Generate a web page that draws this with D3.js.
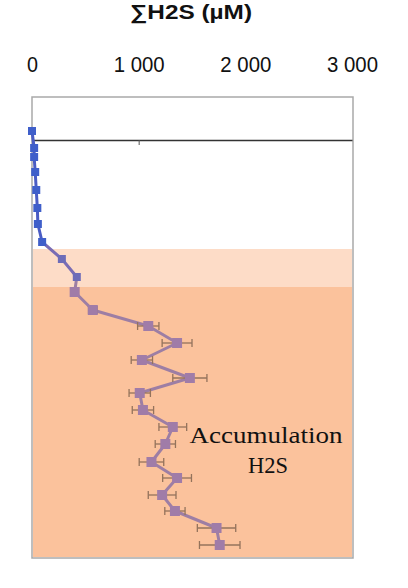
<html>
<head>
    <style>
        body {
            margin: 0;
            background: white;
            font-family: "Liberation Sans", Arial, sans-serif;
        }
    </style>
    <script src="https://cdn.jsdelivr.net/npm/d3@7/dist/d3.min.js"></script>
</head>
<body>
    <div class="mainView"></div>
</body>
<script>
    // depth below the sediment surface (mm), negative = water above
    const depths = [-4.5, 4, 8.5, 16, 25, 34, 42, 51, 59.5, 68.5, 76, 85, 93, 101.5,
                    110, 119, 126.5, 135, 143.5, 152, 161, 169, 177.5, 185.5, 194, 202.5];
    // sum H2S (uM) and its error
    const h2s = [0, 20, 20, 30, 40, 50, 55, 95, 280, 420, 400, 570, 1090, 1360,
                 1030, 1480, 1010, 1040, 1320, 1250, 1120, 1360, 1220, 1340, 1730, 1760];
    const h2sErr = [0, 0, 0, 0, 0, 0, 0, 0, 10, 20, 20, 40, 100, 140,
                    100, 160, 100, 100, 130, 95, 115, 135, 130, 95, 180, 190];
    const xTicks = [0, 1000, 2000, 3000];
    const transitionZone = [54.5, 73.5];
    const accumulationZone = [73.5, 208.5];
    const depthExtent = [-21.5, 209];
    const accLabel = ["Accumulation", "H2S"];

    function getChartConfig() {
        let width = 408;
        let height = 588;
        let svg = d3.select(".mainView")
            .append("svg")
            .attr("width", width)
            .attr("height", height);
        return { width, height, svg };
    }

    function getChartScales() {
        let xScale = d3.scaleLinear()
            .domain([0, 3000])
            .range([32, 352]);
        let yScale = d3.scaleLinear()
            .domain(depthExtent)
            .range([97, 558]);
        return { xScale, yScale };
    }

    function zoneOf(d) {
        if (d > accumulationZone[0]) return "acc";
        if (d > transitionZone[0]) return "trans";
        return "top";
    }

    const lineColor = { top: "#4a5cc4", trans: "#7a6cb4", acc: "#9d7ea4" };
    const markColor = { top: "#3f5fca", trans: "#6d6cb8", acc: "#a07ca8" };

    function drawBackground(scales, config) {
        let { xScale, yScale } = scales;
        let { svg } = config;
        svg.append("rect")
            .attr("x", 32).attr("y", yScale(depthExtent[0]))
            .attr("width", 321).attr("height", yScale(depthExtent[1]) - yScale(depthExtent[0]))
            .attr("fill", "white");
        svg.append("rect")
            .attr("x", 33).attr("y", yScale(transitionZone[0]))
            .attr("width", 319).attr("height", yScale(transitionZone[1]) - yScale(transitionZone[0]))
            .attr("fill", "#fddcc7");
        svg.append("rect")
            .attr("x", 33).attr("y", yScale(accumulationZone[0]))
            .attr("width", 319).attr("height", yScale(accumulationZone[1]) - yScale(accumulationZone[0]))
            .attr("fill", "#fbc29c");
        svg.append("rect")
            .attr("x", 32).attr("y", yScale(depthExtent[0]))
            .attr("width", 321).attr("height", yScale(depthExtent[1]) - yScale(depthExtent[0]))
            .attr("fill", "none")
            .attr("stroke", "#a9a9a9")
            .attr("stroke-width", 1.5);
    }

    function drawAxes(scales, config) {
        let { xScale, yScale } = scales;
        let { svg } = config;
        let fmt = d3.formatLocale({ decimal: ",", thousands: " ", grouping: [3], currency: ["", ""] }).format(",");

        // labels above the plot
        let labels = svg.append("g")
            .attr("transform", "translate(0,72)")
            .call(d3.axisTop(xScale).tickValues(xTicks).tickFormat(fmt).tickSize(0).tickPadding(0));
        labels.select(".domain").remove();
        labels.selectAll("text")
            .attr("fill", "#111")
            .style("font-family", "'Liberation Sans', Arial, sans-serif")
            .style("font-size", "22px")
            .attr("textLength", d => d === 0 ? 11 : 51)
            .attr("lengthAdjust", "spacingAndGlyphs");

        // axis line at the surface
        let axisLine = svg.append("g")
            .attr("transform", "translate(0," + yScale(0) + ")")
            .call(d3.axisBottom(xScale).tickValues([1000]).tickSize(5).tickSizeOuter(0).tickFormat(""));
        axisLine.select(".domain").attr("stroke", "#333").attr("stroke-width", 1.3);
        axisLine.selectAll(".tick line").attr("stroke", "#555");

        svg.append("text")
            .attr("x", 191).attr("y", 19)
            .attr("text-anchor", "middle")
            .attr("font-weight", "bold")
            .attr("font-size", 20)
            .attr("fill", "#111")
            .attr("textLength", 122)
            .attr("lengthAdjust", "spacingAndGlyphs")
            .text("\u2211H2S (\u00b5M)");
    }

    function drawMarks(scales, config) {
        let { xScale, yScale } = scales;
        let { svg } = config;
        let pts = depths.map((d, i) => ({ depth: d, v: h2s[i], e: h2sErr[i], zone: zoneOf(d) }));

        let segs = d3.pairs(pts);
        svg.append("g").selectAll("line")
            .data(segs)
            .enter()
            .append("line")
            .attr("x1", d => xScale(d[0].v)).attr("y1", d => yScale(d[0].depth))
            .attr("x2", d => xScale(d[1].v)).attr("y2", d => yScale(d[1].depth))
            .attr("stroke", d => lineColor[d[1].zone])
            .attr("stroke-width", 3)
            .attr("stroke-linecap", "round");

        let err = svg.append("g")
            .selectAll("g")
            .data(pts.filter(d => d.e > 0))
            .enter()
            .append("g")
            .attr("stroke", "#94735c")
            .attr("stroke-width", 1.3);
        err.append("line")
            .attr("x1", d => xScale(d.v - d.e)).attr("x2", d => xScale(d.v + d.e))
            .attr("y1", d => yScale(d.depth)).attr("y2", d => yScale(d.depth));
        [-1, 1].forEach(s => {
            err.append("line")
                .attr("x1", d => xScale(d.v + s * d.e)).attr("x2", d => xScale(d.v + s * d.e))
                .attr("y1", d => yScale(d.depth) - 4).attr("y2", d => yScale(d.depth) + 4);
        });

        svg.append("g").selectAll("rect")
            .data(pts)
            .enter()
            .append("rect")
            .attr("x", d => xScale(d.v) - (d.zone === "acc" ? 5 : 4))
            .attr("y", d => yScale(d.depth) - (d.zone === "acc" ? 5 : 4))
            .attr("width", d => d.zone === "acc" ? 10 : 8)
            .attr("height", d => d.zone === "acc" ? 10 : 8)
            .attr("fill", d => markColor[d.zone]);

        let label = svg.append("g")
            .style("font-family", "'Liberation Serif', 'Times New Roman', serif")
            .attr("fill", "#111")
            .attr("font-size", 23)
            .attr("text-anchor", "middle");
        label.append("text")
            .attr("x", 266).attr("y", 443)
            .attr("textLength", 153).attr("lengthAdjust", "spacingAndGlyphs")
            .text(accLabel[0]);
        label.append("text")
            .attr("x", 268).attr("y", 473)
            .attr("textLength", 40).attr("lengthAdjust", "spacingAndGlyphs")
            .text(accLabel[1]);
    }

    function showData() {
        let config = getChartConfig();
        let scales = getChartScales();
        drawBackground(scales, config);
        drawAxes(scales, config);
        drawMarks(scales, config);
    }
    showData();
</script>
</html>
